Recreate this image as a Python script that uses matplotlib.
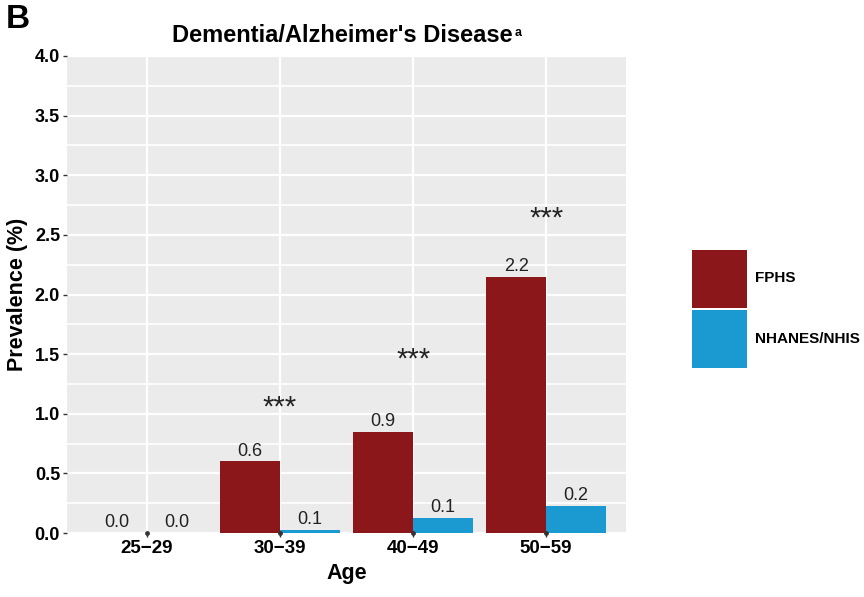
import matplotlib
matplotlib.use("Agg")
import matplotlib.pyplot as plt
import numpy as np
from matplotlib.patches import Patch

plt.rcParams['font.family'] = ['Liberation Sans', 'DejaVu Sans']

ages = ["25\u221229", "30\u221239", "40\u221249", "50\u221259"]
fphs = [0.0, 0.60, 0.85, 2.15]
nhanes = [0.0, 0.025, 0.125, 0.225]
fphs_lbl = ["0.0", "0.6", "0.9", "2.2"]
nhanes_lbl = ["0.0", "0.1", "0.1", "0.2"]
sig = ["", "***", "***", "***"]
sig_y = [None, 1.07, 1.47, 2.65]
yticks = [0.0, 0.5, 1.0, 1.5, 2.0, 2.5, 3.0, 3.5, 4.0]

c_fphs = "#8B171A"
c_nh = "#1A9AD0"

fig = plt.figure(figsize=(8.64, 5.97), dpi=100)
W, H = 864, 597
ax = fig.add_axes([67 / W, 1 - 533 / H, (626 - 67) / W, (533 - 56) / H])
ax.set_facecolor("#EBEBEB")

x = np.arange(1, len(ages) + 1)
bw = 0.45
ax.bar(x - bw / 2, fphs, width=bw, color=c_fphs, zorder=3)
ax.bar(x + bw / 2, nhanes, width=bw, color=c_nh, zorder=3)
ax.scatter(x, np.zeros(len(x)), s=6, color="#333333", zorder=4, clip_on=False)

for xi, v, l in zip(x, fphs, fphs_lbl):
    ax.text(xi - bw / 2, v + 0.015, l, ha="center", va="bottom", fontsize=13, color="#222222", zorder=5)
for xi, v, l in zip(x, nhanes, nhanes_lbl):
    ax.text(xi + bw / 2, v + 0.015, l, ha="center", va="bottom", fontsize=13, color="#222222", zorder=5)
for xi, s, sy in zip(x, sig, sig_y):
    if s:
        ax.text(xi, sy - 0.015, s, ha="center", va="center", fontsize=21, color="#222222", zorder=5)

ax.set_xlim(0.4, 4.6)
ax.set_ylim(0, 4.0)
ax.set_xticks(x)
ax.set_xticklabels(ages, fontsize=13.5, fontweight="bold")
ax.set_yticks(yticks)
ax.set_yticklabels([f"{t:.1f}" for t in yticks], fontsize=13, fontweight="bold")
ax.set_yticks(np.arange(0.25, 4.0, 0.5), minor=True)
ax.grid(True, which="major", color="white", linewidth=1.6, zorder=0)
ax.grid(True, which="minor", axis="y", color="white", linewidth=1.2, zorder=0)
ax.set_axisbelow(True)
for sp in ax.spines.values():
    sp.set_visible(False)
ax.tick_params(axis="both", which="major", length=3, width=1, color="#333333", pad=2)
ax.tick_params(axis="both", which="minor", length=0)

ax.set_xlabel("Age", fontsize=15.5, fontweight="bold", labelpad=4)
ax.set_ylabel("Prevalence (%)", fontsize=15.5, fontweight="bold", labelpad=5)

title = fig.text((67 + 626) / 2 / W - 4 / W, 1 - 35 / H, "Dementia/Alzheimer's Disease",
                 ha="center", va="center", fontsize=17, fontweight="bold")
fig.canvas.draw()
bb = title.get_window_extent(renderer=fig.canvas.get_renderer())
fig.text(bb.x1 / W + 1.5 / W, bb.y1 / H - 3 / H, "a", ha="left", va="top",
         fontsize=9, fontweight="bold")
fig.text(6 / W, 1 - 4 / H, "B", ha="left", va="top", fontsize=24, fontweight="bold")

handles = [Patch(facecolor=c_fphs, edgecolor="none", label="FPHS"),
           Patch(facecolor=c_nh, edgecolor="none", label="NHANES/NHIS")]
leg = fig.legend(handles=handles, loc="upper left", bbox_to_anchor=(692 / W, 1 - 250 / H),
                 frameon=False, borderpad=0, borderaxespad=0, handlelength=3.6, handleheight=5.45,
                 labelspacing=0.15, handletextpad=0.55, prop={"weight": "bold", "size": 11})

fig.savefig("out.png", dpi=100)
